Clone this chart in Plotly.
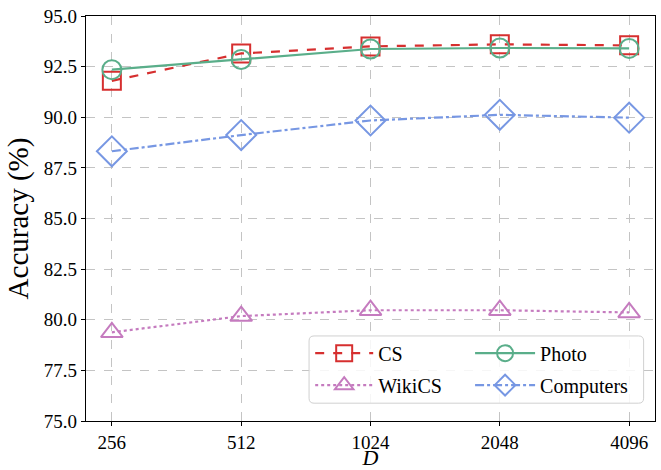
import plotly.graph_objects as go

dims = ["256", "512", "1024", "2048", "4096"]
cs = [91.8, 93.15, 93.5, 93.6, 93.55]
photo = [92.35, 92.85, 93.37, 93.42, 93.4]
wikics = [79.38, 80.18, 80.47, 80.47, 80.36]
computers = [88.32, 89.12, 89.84, 90.12, 89.98]
yticks = [75.0, 77.5, 80.0, 82.5, 85.0, 87.5, 90.0, 92.5, 95.0]

xpos = list(range(len(dims)))
FONT = "Liberation Serif, Times New Roman, serif"

fig = go.Figure()
series = [
    ("CS", cs, "#d62f2f", "dash", "square-open", 18, "legend"),
    ("WikiCS", wikics, "#c57bbf", "dot", "triangle-up-open", 19, "legend"),
    ("Photo", photo, "#5aae8a", "solid", "circle-open", 19, "legend2"),
    ("Computers", computers, "#7797e3", "dashdot", "diamond-open", 23, "legend2"),
]
for name, vals, color, dash, sym, size, leg in series:
    fig.add_trace(go.Scatter(
        x=xpos, y=vals, name=name, mode="lines+markers", legend=leg, legendgroup=name,
        line=dict(color=color, dash=dash, width=2.2),
        marker=dict(symbol=sym, size=size, color=color, line=dict(width=2, color=color)),
    ))

# legend frame (rounded box) in paper coordinates
x0, x1, y0, y1 = 0.392, 0.98, 0.044, 0.21
rx, ry = 5 / 569, 5 / 405
path = (f"M {x0+rx},{y0} L {x1-rx},{y0} Q {x1},{y0} {x1},{y0+ry} "
        f"L {x1},{y1-ry} Q {x1},{y1} {x1-rx},{y1} L {x0+rx},{y1} "
        f"Q {x0},{y1} {x0},{y1-ry} L {x0},{y0+ry} Q {x0},{y0} {x0+rx},{y0} Z")
fig.add_shape(type="path", path=path, xref="paper", yref="paper",
              fillcolor="rgba(255,255,255,0.85)", line=dict(color="#d0d0d0", width=1),
              layer="above")

legstyle = dict(
    orientation="v", yanchor="middle", y=0.128,
    bgcolor="rgba(0,0,0,0)", borderwidth=0,
    font=dict(family=FONT, size=20), tracegroupgap=3,
)
fig.update_layout(
    width=661, height=470,
    margin=dict(l=86, r=6, t=16, b=49),
    plot_bgcolor="white", paper_bgcolor="white",
    font=dict(family=FONT, size=16, color="black"),
    showlegend=True,
    legend=dict(x=0.394, xanchor="left", itemwidth=58, **legstyle),
    legend2=dict(x=0.675, xanchor="left", itemwidth=60, **legstyle),
)
fig.update_xaxes(
    range=[-0.2, 4.2], tickmode="array", tickvals=xpos, ticktext=dims,
    showgrid=True, gridcolor="#c4c4c4", griddash="dash", gridwidth=1,
    showline=True, linecolor="black", linewidth=1.2, mirror=True,
    ticks="outside", ticklen=4, tickcolor="black", automargin=False,
    ticklabeloverflow="allow",
    tickfont=dict(family=FONT, size=19), zeroline=False,
    title=dict(text="<i>D</i>", font=dict(family=FONT, size=22), standoff=7),
)
fig.update_yaxes(
    range=[75, 95], tickmode="array", tickvals=yticks,
    ticktext=[f"{v:.1f}" for v in yticks],
    showgrid=True, gridcolor="#c4c4c4", griddash="dash", gridwidth=1,
    showline=True, linecolor="black", linewidth=1.2, mirror=True,
    ticks="outside", ticklen=4, tickcolor="black", automargin=False,
    ticklabeloverflow="allow",
    tickfont=dict(family=FONT, size=19), zeroline=False,
    title=dict(text="Accuracy (%)", font=dict(family=FONT, size=29), standoff=6),
)

fig.write_html("out.html", config={"displayModeBar": False},
               post_script="document.body.style.margin='0';")
